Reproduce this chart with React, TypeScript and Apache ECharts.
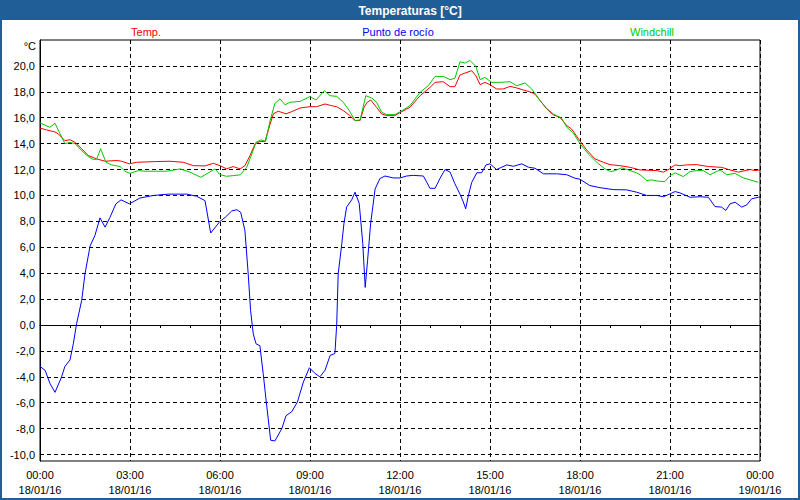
import React, { useEffect, useRef } from "react";
import * as echarts from "echarts";

const chartTitle = "Temperaturas [°C]";
const unitLabel = "°C";
const seriesNames = ["Temp.", "Punto de rocío", "Windchill"];
const seriesColors = ["#ff0000", "#0000ff", "#00c800"];
const yTickValues = [-10, -8, -6, -4, -2, 0, 2, 4, 6, 8, 10, 12, 14, 16, 18, 20];
const xTimeLabels = ["00:00", "03:00", "06:00", "09:00", "12:00", "15:00", "18:00", "21:00", "00:00"];
const xDateLabels = ["18/01/16", "18/01/16", "18/01/16", "18/01/16", "18/01/16", "18/01/16", "18/01/16", "18/01/16", "19/01/16"];

// [hours since 18/01/16 00:00, °C]
const tempData: [number, number][] = [
  [0, 15.2], [0.22, 15.06], [0.5, 14.9], [0.61, 14.75], [0.83, 14.23], [1.0, 14.3], [1.17, 14.1], [1.39, 13.6],
  [1.61, 13.08], [1.89, 12.82], [2.17, 12.64], [2.56, 12.7], [2.72, 12.64], [2.98, 12.44], [3.22, 12.56], [3.78, 12.61],
  [4.33, 12.64], [4.78, 12.56], [5.11, 12.3], [5.5, 12.28], [5.78, 12.48], [6.0, 12.3], [6.22, 12.05], [6.44, 12.23],
  [6.67, 12.05], [6.83, 12.3], [7.0, 13.08], [7.17, 13.98], [7.33, 14.16], [7.5, 14.16], [7.67, 15.5], [7.78, 16.3],
  [7.94, 16.5], [8.2, 16.3], [8.39, 16.47], [8.67, 16.75], [8.98, 16.85], [9.22, 16.85], [9.5, 17.06], [9.72, 16.93],
  [9.89, 16.85], [10.11, 16.55], [10.33, 16.16], [10.5, 15.78], [10.67, 15.78], [10.8, 16.8], [10.91, 17.19],
  [11.02, 17.37], [11.22, 16.8], [11.39, 16.29], [11.56, 16.16], [11.83, 16.16], [12.0, 16.4], [12.33, 16.8],
  [12.67, 17.7], [13.0, 18.34], [13.17, 18.73], [13.44, 18.78], [13.67, 18.4], [13.83, 18.4], [14.0, 19.3],
  [14.17, 19.45], [14.39, 19.63], [14.53, 19.24], [14.67, 18.55], [14.83, 18.73], [15.0, 18.55], [15.22, 18.22],
  [15.44, 18.22], [15.67, 18.42], [15.89, 18.3], [16.11, 18.14], [16.33, 18.0], [16.5, 17.83], [16.67, 17.32],
  [16.89, 16.68], [17.11, 16.22], [17.33, 16.03], [17.56, 15.39], [17.72, 15.13], [18.0, 14.2], [18.22, 13.52],
  [18.5, 12.82], [18.78, 12.56], [19.0, 12.38], [19.33, 12.3], [19.67, 12.17], [20.0, 11.97], [20.56, 11.92],
  [20.78, 11.8], [20.98, 12.05], [21.17, 12.36], [21.33, 12.3], [21.56, 12.36], [21.89, 12.38], [22.28, 12.23],
  [22.72, 12.17], [23.0, 11.97], [23.28, 11.8], [23.5, 11.92], [23.67, 12.0], [23.83, 11.92], [24.0, 11.97],
];

const dewPointData: [number, number][] = [
  [0, -3.2], [0.17, -3.5], [0.33, -4.5], [0.5, -5.2], [0.72, -4.0], [0.83, -3.2], [1.0, -2.7], [1.11, -1.45],
  [1.22, 0.1], [1.39, 1.9], [1.5, 3.95], [1.67, 6.1], [1.83, 6.9], [2.0, 8.27], [2.17, 7.55], [2.33, 8.3],
  [2.53, 9.35], [2.7, 9.66], [2.98, 9.35], [3.33, 9.8], [3.78, 10.0], [4.28, 10.1], [4.89, 10.1], [5.22, 9.94],
  [5.5, 9.6], [5.69, 7.1], [6.0, 8.0], [6.17, 8.3], [6.39, 8.8], [6.56, 8.9], [6.69, 8.7], [6.83, 7.3],
  [6.94, 3.95], [7.02, 1.1], [7.11, -0.7], [7.2, -1.45], [7.33, -1.6], [7.44, -3.75], [7.56, -6.3], [7.69, -8.9],
  [7.83, -8.95], [8.06, -8.0], [8.2, -7.0], [8.39, -6.7], [8.58, -5.95], [8.78, -4.4], [8.98, -3.3], [9.17, -3.75],
  [9.33, -4.0], [9.5, -3.5], [9.67, -2.35], [9.83, -2.2], [9.89, 0.0], [9.94, 3.95], [10.06, 6.27], [10.13, 7.8],
  [10.22, 9.1], [10.39, 9.66], [10.5, 10.25], [10.64, 9.4], [10.76, 6.27], [10.84, 2.9], [10.92, 5.0], [11.02, 7.8],
  [11.17, 10.5], [11.33, 11.3], [11.5, 11.5], [11.78, 11.35], [12.0, 11.35], [12.22, 11.5], [12.44, 11.55],
  [12.78, 11.5], [13.0, 10.55], [13.17, 10.55], [13.33, 11.3], [13.5, 12.0], [13.67, 11.8], [13.83, 10.9],
  [14.0, 10.1], [14.11, 9.5], [14.19, 8.97], [14.28, 10.0], [14.39, 11.0], [14.56, 11.75], [14.72, 11.75],
  [14.87, 12.36], [15.0, 12.44], [15.22, 12.0], [15.56, 12.36], [15.78, 12.25], [16.06, 12.44], [16.28, 12.18],
  [16.5, 12.1], [16.78, 11.67], [17.22, 11.67], [17.56, 11.6], [17.83, 11.33], [18.0, 11.25], [18.33, 10.76],
  [18.67, 10.6], [19.11, 10.45], [19.56, 10.43], [19.89, 10.25], [20.22, 10.0], [20.56, 10.0], [20.78, 9.9],
  [20.98, 10.1], [21.17, 10.3], [21.33, 10.2], [21.67, 9.86], [22.0, 9.9], [22.28, 9.86], [22.5, 9.14],
  [22.72, 9.1], [22.86, 8.84], [23.0, 9.35], [23.17, 9.48], [23.39, 9.1], [23.56, 9.27], [23.72, 9.74],
  [23.94, 9.86], [24.0, 9.9],
];

const windchillData: [number, number][] = [
  [0, 15.6], [0.33, 15.26], [0.5, 15.57], [0.67, 14.75], [0.83, 14.0], [1.0, 14.1], [1.17, 14.0], [1.39, 13.46],
  [1.61, 13.0], [1.78, 12.77], [1.89, 12.8], [2.02, 13.6], [2.2, 12.56], [2.39, 12.36], [2.67, 12.23], [2.83, 11.87],
  [3.0, 11.7], [3.28, 11.92], [3.5, 11.87], [3.89, 11.87], [4.22, 11.87], [4.67, 12.05], [5.0, 11.8], [5.36, 11.4],
  [5.61, 11.74], [5.83, 12.05], [6.0, 11.6], [6.22, 11.48], [6.44, 11.53], [6.67, 11.59], [6.89, 12.17],
  [7.06, 13.2], [7.2, 14.1], [7.36, 14.29], [7.52, 14.18], [7.67, 15.78], [7.83, 17.11], [8.0, 17.45], [8.17, 17.0],
  [8.33, 17.19], [8.67, 17.26], [9.0, 17.63], [9.2, 17.37], [9.48, 18.09], [9.67, 17.7], [9.89, 17.65],
  [10.11, 17.19], [10.31, 16.55], [10.5, 15.78], [10.67, 15.83], [10.86, 17.7], [11.06, 17.52], [11.22, 17.19],
  [11.39, 16.42], [11.56, 16.24], [11.83, 16.24], [12.0, 16.45], [12.33, 16.93], [12.67, 17.96], [12.94, 18.47],
  [13.17, 19.19], [13.44, 19.19], [13.67, 18.94], [13.83, 19.04], [14.0, 20.32], [14.17, 20.22], [14.33, 20.42],
  [14.53, 19.96], [14.67, 18.94], [14.83, 19.11], [15.06, 18.73], [15.33, 18.73], [15.67, 18.78], [15.89, 18.47],
  [16.17, 18.68], [16.39, 18.22], [16.67, 17.32], [16.89, 16.72], [17.11, 16.29], [17.39, 15.95], [17.56, 15.26],
  [17.78, 14.82], [18.0, 14.0], [18.28, 13.2], [18.56, 12.56], [18.83, 12.05], [19.02, 11.84], [19.17, 11.92],
  [19.39, 12.13], [19.61, 11.97], [19.89, 11.74], [20.0, 11.6], [20.22, 11.15], [20.39, 11.2], [20.61, 11.1],
  [20.83, 11.07], [21.0, 11.53], [21.17, 11.74], [21.44, 11.46], [21.67, 11.84], [21.89, 11.92], [22.11, 11.92],
  [22.33, 11.6], [22.67, 11.97], [22.89, 11.6], [23.17, 11.7], [23.44, 11.36], [23.67, 11.2], [23.94, 11.02],
];

const FONT = "'Liberation Sans', Arial, sans-serif";

export default function App() {
  const ref = useRef<HTMLDivElement>(null);

  useEffect(() => {
    if (!ref.current) return;
    const chart = echarts.init(ref.current, undefined, { renderer: "svg" });
    const legendX = [146, 398, 652];
    chart.setOption({
      animation: false,
      backgroundColor: "#ffffff",
      textStyle: { fontFamily: FONT },
      grid: {
        left: 40,
        top: 40,
        width: 720,
        height: 421,
        show: true,
        borderColor: "#000",
        borderWidth: 1,
        backgroundColor: "transparent",
      },
      xAxis: {
        type: "value",
        min: 0,
        max: 24,
        interval: 3,
        axisLine: { show: true, lineStyle: { color: "#000", width: 1 } },
        axisTick: { show: true, length: 3, lineStyle: { color: "#000" } },
        minorTick: { show: true, splitNumber: 3, length: 3, lineStyle: { color: "#000" } },
        splitLine: { show: true, lineStyle: { color: "#000", type: [4, 3], width: 1 } },
        axisLabel: {
          color: "#000",
          fontSize: 11,
          fontFamily: FONT,
          lineHeight: 15,
          margin: 6,
          formatter: (v: number) => {
            const i = Math.round(v / 3);
            return `${xTimeLabels[i]}\n${xDateLabels[i]}`;
          },
        },
      },
      yAxis: {
        type: "value",
        min: -10.5,
        max: 22,
        axisLine: { show: true, lineStyle: { color: "#000", width: 1 } },
        axisTick: { show: false, customValues: yTickValues },
        splitLine: { show: true, lineStyle: { color: "#000", type: [4, 3], width: 1 } },
        axisLabel: {
          customValues: yTickValues,
          color: "#000",
          fontSize: 11,
          fontFamily: FONT,
          margin: 5,
          formatter: (v: number) => v.toFixed(1).replace(".", ","),
        },
      },
      graphic: [
        { type: "rect", shape: { x: 0, y: 0, width: 800, height: 20 }, style: { fill: "#1f5e96" }, silent: true },
        {
          type: "rect",
          shape: { x: 1, y: 1, width: 798, height: 498 },
          style: { fill: "none", stroke: "#1f5e96", lineWidth: 2 },
          silent: true,
        },
        {
          type: "text",
          x: 410,
          y: 11,
          style: {
            text: chartTitle,
            fill: "#ffffff",
            font: `bold 12px ${FONT}`,
            textAlign: "center",
            textVerticalAlign: "middle",
          },
        },
        {
          type: "text",
          x: 36,
          y: 46,
          style: { text: unitLabel, fill: "#000", font: `11px ${FONT}`, textAlign: "right", textVerticalAlign: "middle" },
        },
        ...seriesNames.map((n, i) => ({
          type: "text",
          x: legendX[i],
          y: 32,
          style: {
            text: n,
            fill: seriesColors[i],
            font: `11px ${FONT}`,
            textAlign: "center",
            textVerticalAlign: "middle",
          },
        })),
      ],
      series: [tempData, dewPointData, windchillData].map((d, i) => ({
        name: seriesNames[i],
        type: "line",
        data: d,
        showSymbol: false,
        symbol: "none",
        lineStyle: { color: seriesColors[i], width: 1 },
        itemStyle: { color: seriesColors[i] },
        clip: false,
      })),
    });
    return () => chart.dispose();
  }, []);

  return (
    <div
      ref={ref}
      style={{ position: "fixed", left: 0, top: 0, width: 800, height: 500, background: "#fff" }}
    />
  );
}
